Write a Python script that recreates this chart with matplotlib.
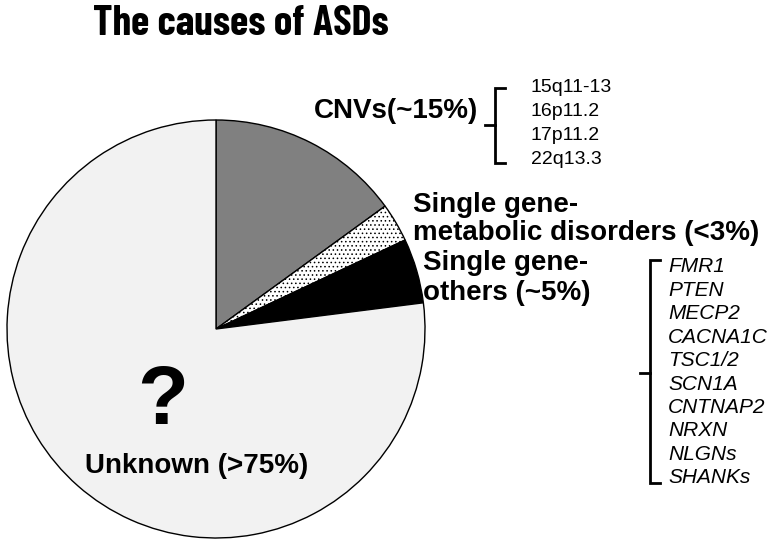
import matplotlib
matplotlib.use('Agg')
import matplotlib.pyplot as plt

plt.rcParams['font.family'] = ['Liberation Sans', 'DejaVu Sans']
plt.rcParams['hatch.linewidth'] = 0.6
plt.rcParams['hatch.color'] = '#444444'

# pie data (percent shares, clockwise from 12 o'clock)
causes = ['CNVs', 'Single gene-metabolic', 'Single gene-others', 'Unknown']
shares = [15, 3, 5, 77]
colors = ['#808080', 'white', 'black', '#f2f2f2']
hatches = ['', '....', '', '']

cnv_regions = ['15q11-13', '16p11.2', '17p11.2', '22q13.3']
genes = ['FMR1', 'PTEN', 'MECP2', 'CACNA1C', 'TSC1/2', 'SCN1A',
         'CNTNAP2', 'NRXN', 'NLGNs', 'SHANKs']

W, H = 776, 546
fig = plt.figure(figsize=(W / 100, H / 100), dpi=100)
ax = fig.add_axes([0, 0, 1, 1])

wedges, _ = ax.pie(shares, colors=colors, startangle=90, counterclock=False,
                   center=(216, H - 329), radius=209,
                   wedgeprops=dict(edgecolor='black', linewidth=1.0))
for w, h in zip(wedges, hatches):
    w.set_hatch(h)

ax.set_xlim(0, W)
ax.set_ylim(0, H)
ax.set_aspect('equal')
ax.axis('off')

# title
ax.text(241, H - 24, 'The causes of ASDs', ha='center', va='center',
        fontsize=30, fontweight=700,
        family=['Barlow Condensed', 'Liberation Sans'])

big = dict(fontsize=20, fontweight='bold')
ax.text(314, H - 111, 'CNVs(~15%)', ha='left', va='center', **big)
ax.text(413, H - 219, 'Single gene-\nmetabolic disorders (<3%)', ha='left',
        va='center', linespacing=1.15, **big)
ax.text(423, H - 278, 'Single gene-\nothers (~5%)', ha='left', va='center',
        linespacing=1.15, **big)
ax.text(197, H - 466, 'Unknown (>75%)', ha='center', va='center', **big)
ax.text(163, H - 402, '?', ha='center', va='center', fontsize=60,
        fontweight='bold')


def bracket(x, top, bottom, mid, hook=10, tick=10):
    ax.plot([x + hook, x, x, x + hook], [H - top, H - top, H - bottom, H - bottom],
            color='black', lw=2, solid_joinstyle='miter')
    ax.plot([x - tick, x], [H - mid, H - mid], color='black', lw=2)


# CNV list
bracket(495, 88, 163, 125)
for i, s in enumerate(cnv_regions):
    ax.text(531, H - (88 + i * 24), s, ha='left', va='center', fontsize=14)

# gene list
bracket(650, 260, 483, 373)
for i, s in enumerate(genes):
    ax.text(668, H - (267 + i * 23.4), s, ha='left', va='center', fontsize=15,
            style='italic')

plt.savefig('out.png', dpi=100)
